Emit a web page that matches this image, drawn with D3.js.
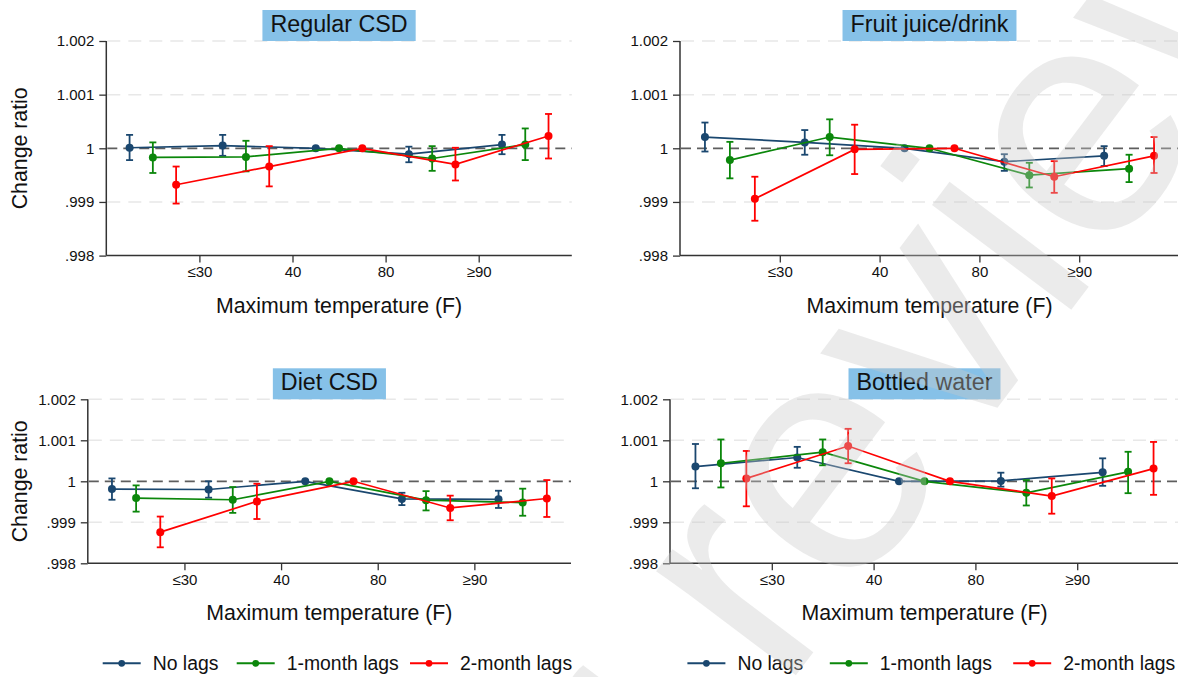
<!DOCTYPE html>
<html>
<head>
<meta charset="utf-8">
<script src="https://cdn.jsdelivr.net/npm/d3@7"></script>
<style>
  html, body { margin: 0; padding: 0; background: #fff; }
  svg { display: block; font-family: "Liberation Sans", Arial, Helvetica, sans-serif; }
</style>
</head>
<body>
<svg id="chart" width="1178" height="677"></svg>
<script>
// ---- data ----------------------------------------------------------------
const seriesNames = ["No lags", "1-month lags", "2-month lags"];
const tempBins = [0, 1, 2, 3, 4];               // five max-temperature bins, bin 2 = reference
const tickPositions = [0.5, 1.5, 2.5, 3.5];     // bin boundaries
const tickLabels = ["≤30", "40", "80", "≥90"];
const yTicks = [0.998, 0.999, 1, 1.001, 1.002];
const yTickLabels = [".998", ".999", "1", "1.001", "1.002"];
const panelTitles = ["Regular CSD", "Fruit juice/drink", "Diet CSD", "Bottled water"];

// Regular CSD: estimates and 95% CI (rows: no lags, 1-month, 2-month)
const regularEst = [
  [1.00001, 1.00005, 1, 0.99989, 1.00007],
  [0.99983, 0.99984, 1, 0.99981, 1.00007],
  [0.99932, 0.99966, 1, 0.99970, 1.00023]
];
const regularLo = [
  [0.99978, 0.99986, null, 0.99974, 0.99989],
  [0.99954, 0.99957, null, 0.99958, 0.99978],
  [0.99897, 0.99929, null, 0.99940, 0.99981]
];
const regularHi = [
  [1.00025, 1.00025, null, 1.00003, 1.00025],
  [1.00011, 1.00014, null, 1.00004, 1.00037],
  [0.99966, 1.00004, null, 1.00001, 1.00064]
];

// Fruit juice/drink
const juiceEst = [
  [1.00021, 1.00011, 1, 0.99975, 0.99986],
  [0.99978, 1.00021, 1, 0.99950, 0.99962],
  [0.99906, 0.99998, 1, 0.99947, 0.99986]
];
const juiceLo = [
  [0.99994, 0.99988, null, 0.99958, 0.99967],
  [0.99944, 0.99987, null, 0.99927, 0.99937],
  [0.99865, 0.99952, null, 0.99917, 0.99954]
];
const juiceHi = [
  [1.00048, 1.00034, null, 0.99989, 1.00004],
  [1.00012, 1.00054, null, 0.99973, 0.99988],
  [0.99947, 1.00044, null, 0.99976, 1.00021]
];

// Diet CSD
const dietEst = [
  [0.99981, 0.99980, 1, 0.99957, 0.99956],
  [0.99959, 0.99955, 1, 0.99954, 0.99948],
  [0.99876, 0.99951, 1, 0.99935, 0.99958]
];
const dietLo = [
  [0.99955, 0.99960, null, 0.99942, 0.99935],
  [0.99926, 0.99923, null, 0.99929, 0.99916],
  [0.99839, 0.99908, null, 0.99905, 0.99913]
];
const dietHi = [
  [1.00007, 1.00000, null, 0.99972, 0.99977],
  [0.99990, 0.99986, null, 0.99976, 0.99982],
  [0.99914, 0.99994, null, 0.99965, 1.00003]
];

// Bottled water
const waterEst = [
  [1.00036, 1.00058, 1, 1.00001, 1.00022],
  [1.00044, 1.00071, 1, 0.99972, 1.00023],
  [1.00007, 1.00086, 1, 0.99964, 1.00031]
];
const waterLo = [
  [0.99983, 1.00033, null, 0.99987, 0.99989],
  [0.99985, 1.00039, null, 0.99941, 0.99971],
  [0.99939, 1.00044, null, 0.99921, 0.99967]
];
const waterHi = [
  [1.00091, 1.00084, null, 1.00021, 1.00056],
  [1.00102, 1.00102, null, 1.00003, 1.00072],
  [1.00074, 1.00128, null, 1.00007, 1.00096]
];

// ---- style & layout --------------------------------------------------------
const seriesColors = ["#1a476f", "#0b870b", "#ff0000"];
const seriesOffset = [-0.25, 0, 0.25];

const panels = [
  { title: panelTitles[0], est: regularEst, lo: regularLo, hi: regularHi,
    left: 106.3, right: 571.8, top: 41, bottom: 255.6, yTitle: true },
  { title: panelTitles[1], est: juiceEst, lo: juiceLo, hi: juiceHi,
    left: 680, right: 1179, top: 41, bottom: 255.6, yTitle: false },
  { title: panelTitles[2], est: dietEst, lo: dietLo, hi: dietHi,
    left: 87.8, right: 571, top: 399.3, bottom: 563.3, yTitle: true,
    legend: { textX: [152.7, 286.7, 460] } },
  { title: panelTitles[3], est: waterEst, lo: waterLo, hi: waterHi,
    left: 670, right: 1179, top: 399.3, bottom: 563.3, yTitle: false,
    legend: { textX: [737.4, 879.8, 1063.2] } }
];

const svg = d3.select("#chart");
svg.append("rect").attr("width", 1178).attr("height", 677).attr("fill", "#fff");

panels.forEach(p => {
  const g = svg.append("g");
  const x = d3.scaleLinear().domain([-0.5, 4.5]).range([p.left, p.right]);
  const y = d3.scaleLinear().domain([0.998, 1.002]).range([p.bottom, p.top]);
  const cx = (p.left + p.right) / 2;

  // horizontal grid
  g.selectAll(".grid").data(yTicks.filter(t => t !== 0.998 && t !== 1))
    .join("line")
    .attr("x1", p.left + 1).attr("x2", p.right)
    .attr("y1", d => y(d)).attr("y2", d => y(d))
    .attr("stroke", "#e8e8e8").attr("stroke-width", 1.5)
    .attr("stroke-dasharray", "13,8");

  // reference line at 1
  g.append("line")
    .attr("x1", p.left + 1).attr("x2", p.right)
    .attr("y1", y(1)).attr("y2", y(1))
    .attr("stroke", "#5e5e5e").attr("stroke-width", 1.8)
    .attr("stroke-dasharray", "10,6");

  // y axis
  const yAxis = d3.axisLeft(y).tickValues(yTicks)
    .tickFormat((d, i) => yTickLabels[i]).tickSize(7).tickPadding(5);
  const ya = g.append("g").attr("transform", `translate(${p.left},0)`).call(yAxis);
  ya.attr("font-family", null).attr("font-size", null);
  ya.select(".domain").attr("stroke", "#333").attr("stroke-width", 1.5).attr("d", `M0,${p.top}V${p.bottom}`);
  ya.selectAll(".tick line").attr("stroke", "#333").attr("stroke-width", 1.3);
  ya.selectAll(".tick text").attr("font-size", 15).attr("fill", "#111");

  // x axis
  const xAxis = d3.axisBottom(x).tickValues(tickPositions)
    .tickFormat((d, i) => tickLabels[i]).tickSize(7).tickPadding(4);
  const xa = g.append("g").attr("transform", `translate(0,${p.bottom})`).call(xAxis);
  xa.attr("font-family", null).attr("font-size", null);
  xa.select(".domain").attr("stroke", "#333").attr("stroke-width", 1.5).attr("d", `M${p.left},0H${p.right}`);
  xa.selectAll(".tick line").attr("stroke", "#333").attr("stroke-width", 1.3);
  xa.selectAll(".tick text").attr("font-size", 15).attr("fill", "#111");

  // axis titles
  g.append("text").attr("x", cx).attr("y", p.bottom + 57)
    .attr("text-anchor", "middle").attr("font-size", 21.3).attr("fill", "#111")
    .text("Maximum temperature (F)");
  if (p.yTitle) {
    g.append("text")
      .attr("transform", `translate(26.5,${y(1)}) rotate(-90)`)
      .attr("text-anchor", "middle").attr("font-size", 21.3).attr("fill", "#111")
      .text("Change ratio");
  }

  // panel title in a shaded box
  const box = g.append("rect").attr("fill", "#86c1e8");
  const tt = g.append("text").attr("x", cx).attr("y", p.top - 9.5)
    .attr("text-anchor", "middle").attr("font-size", 23.3).attr("fill", "#111")
    .text(p.title);
  const bw = tt.node().getComputedTextLength() + 16;
  box.attr("x", cx - bw / 2).attr("y", p.top - 31).attr("width", bw).attr("height", 31);

  // series: connecting line, CI caps, markers
  p.est.forEach((vals, s) => {
    const col = seriesColors[s];
    const pts = tempBins.map(b => ({ b, v: vals[b], lo: p.lo[s][b], hi: p.hi[s][b] }));
    const px = d => x(d.b + seriesOffset[s]);
    const sg = g.append("g");
    sg.append("path").datum(pts)
      .attr("d", d3.line().x(px).y(d => y(d.v)))
      .attr("fill", "none").attr("stroke", col).attr("stroke-width", 1.7);
    const ci = pts.filter(d => d.lo !== null);
    sg.selectAll(".bar").data(ci).join("line")
      .attr("x1", px).attr("x2", px).attr("y1", d => y(d.lo)).attr("y2", d => y(d.hi))
      .attr("stroke", col).attr("stroke-width", 1.8);
    ["lo", "hi"].forEach(k => {
      sg.selectAll(".cap-" + k).data(ci).join("line")
        .attr("class", "cap-" + k)
        .attr("x1", d => px(d) - 3.5).attr("x2", d => px(d) + 3.5)
        .attr("y1", d => y(d[k])).attr("y2", d => y(d[k]))
        .attr("stroke", col).attr("stroke-width", 1.8);
    });
    sg.selectAll("circle").data(pts).join("circle")
      .attr("cx", px).attr("cy", d => y(d.v)).attr("r", 4)
      .attr("fill", col);
  });

  // legend under the bottom panels
  if (p.legend) {
    const ly = 663.3;
    seriesNames.forEach((name, s) => {
      const tx = p.legend.textX[s];
      const k0 = tx - 50, k1 = tx - 12;
      g.append("line").attr("x1", k0).attr("x2", k1).attr("y1", ly).attr("y2", ly)
        .attr("stroke", seriesColors[s]).attr("stroke-width", 2);
      g.append("circle").attr("cx", (k0 + k1) / 2).attr("cy", ly).attr("r", 3.4)
        .attr("fill", seriesColors[s]);
      g.append("text").attr("x", tx).attr("y", 670).attr("font-size", 19.4).attr("fill", "#111")
        .text(name);
    });
  }
});

// translucent review watermark running diagonally over the right half
svg.append("text")
  .attr("transform", "translate(1356,-68) rotate(-53)")
  .attr("text-anchor", "end")
  .attr("font-size", 330)
  .attr("fill", "#c8c8c8").attr("fill-opacity", 0.37)
  .text("peer review");
</script>
</body>
</html>
